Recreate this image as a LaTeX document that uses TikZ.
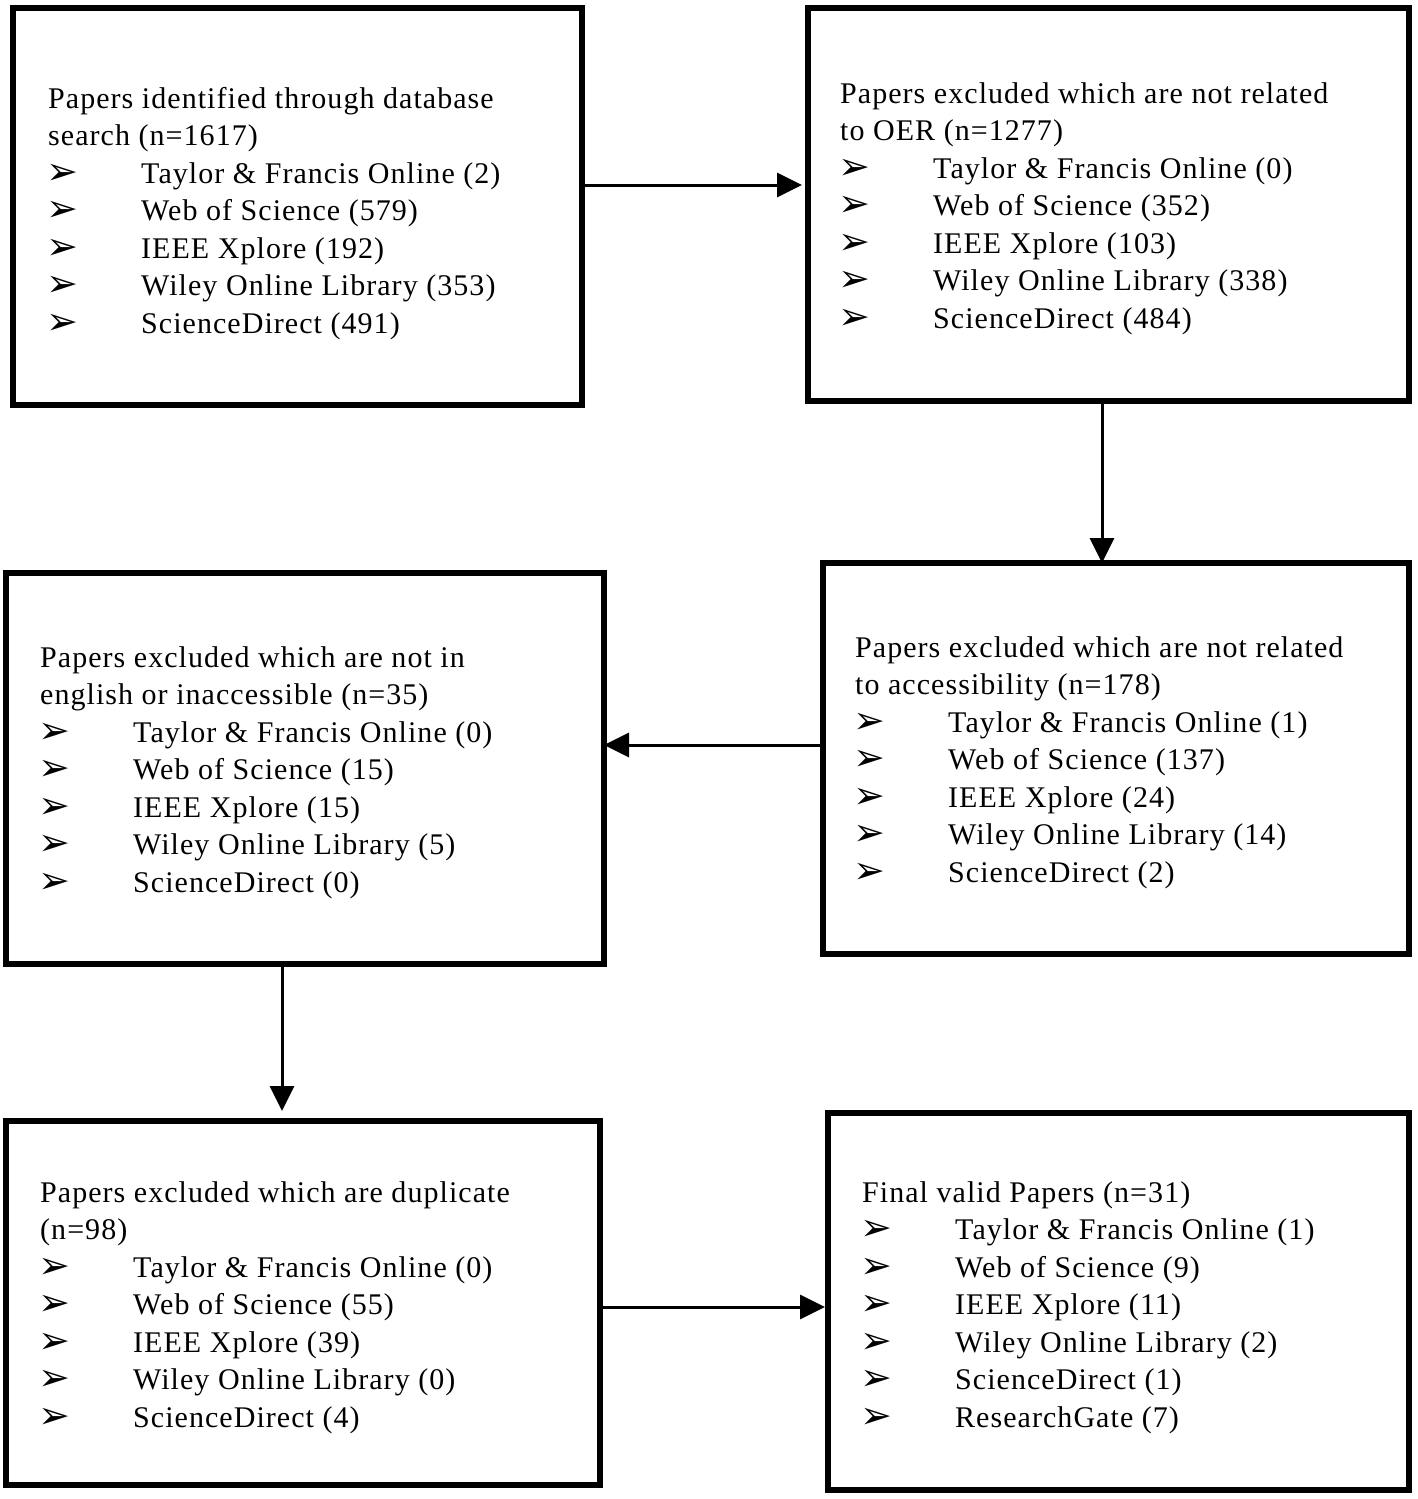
\documentclass[tikz,border=0pt]{standalone}
\usepackage{fontspec}
\setmainfont[LetterSpace=3.5]{Liberation Serif}
\newfontfamily\bulfont{DejaVu Sans}
\usetikzlibrary{arrows.meta}
\newcommand\bul{\raisebox{-1pt}{\bulfont\fontsize{38}{38}\selectfont ➢}}
\newcommand\tline[1]{\hbox{#1}}
\newcommand\bline[1]{\hbox{\makebox[93pt][l]{\hspace{-2pt}\bul}#1}}
\newcommand\btext[1]{\vtop{\baselineskip=37.5pt\lineskiplimit=-100pt #1}}
\tikzset{
  box/.style={draw, line width=6pt, rectangle, inner sep=0pt},
  arr/.style={line width=3pt, -{Triangle[length=25pt,width=24pt]}},
  txt/.style={anchor=base west, inner sep=0pt, font=\fontsize{30}{37.5}\selectfont}
}
\begin{document}
\begin{tikzpicture}[x=1pt,y=-1pt]
\useasboundingbox (0,0) rectangle (1418,1499);
\node[box, minimum width=569pt, minimum height=397pt] (b1) at (297.5,206.5) {};
\node[box, minimum width=601pt, minimum height=393pt] (b2) at (1108.5,204.5) {};
\node[box, minimum width=586pt, minimum height=391pt] (b3) at (1116,758.5) {};
\node[box, minimum width=598pt, minimum height=391pt] (b4) at (305,768.5) {};
\node[box, minimum width=594pt, minimum height=364pt] (b5) at (303,1303) {};
\node[box, minimum width=581pt, minimum height=377pt] (b6) at (1118.5,1301.5) {};

\node[txt] (t1) at (48,108) {\btext{%
\tline{Papers identified through database}
\tline{search (n=1617)}
\bline{Taylor \& Francis Online (2)}
\bline{Web of Science (579)}
\bline{IEEE Xplore (192)}
\bline{Wiley Online Library (353)}
\bline{ScienceDirect (491)}}};

\node[txt] (t2) at (840,103) {\btext{%
\tline{Papers excluded which are not related}
\tline{to OER (n=1277)}
\bline{Taylor \& Francis Online (0)}
\bline{Web of Science (352)}
\bline{IEEE Xplore (103)}
\bline{Wiley Online Library (338)}
\bline{ScienceDirect (484)}}};

\node[txt] (t3) at (855,657) {\btext{%
\tline{Papers excluded which are not related}
\tline{to accessibility (n=178)}
\bline{Taylor \& Francis Online (1)}
\bline{Web of Science (137)}
\bline{IEEE Xplore (24)}
\bline{Wiley Online Library (14)}
\bline{ScienceDirect (2)}}};

\node[txt] (t4) at (40,667) {\btext{%
\tline{Papers excluded which are not in}
\tline{english or inaccessible (n=35)}
\bline{Taylor \& Francis Online (0)}
\bline{Web of Science (15)}
\bline{IEEE Xplore (15)}
\bline{Wiley Online Library (5)}
\bline{ScienceDirect (0)}}};

\node[txt] (t5) at (40,1202) {\btext{%
\tline{Papers excluded which are duplicate}
\tline{(n=98)}
\bline{Taylor \& Francis Online (0)}
\bline{Web of Science (55)}
\bline{IEEE Xplore (39)}
\bline{Wiley Online Library (0)}
\bline{ScienceDirect (4)}}};

\node[txt] (t6) at (862,1202) {\btext{%
\tline{Final valid Papers (n=31)}
\bline{Taylor \& Francis Online (1)}
\bline{Web of Science (9)}
\bline{IEEE Xplore (11)}
\bline{Wiley Online Library (2)}
\bline{ScienceDirect (1)}
\bline{ResearchGate (7)}}};

\draw[arr, shorten >=3pt] (b1.east |- 0,185) -- (b2.west |- 0,185);
\draw[arr, shorten >=-3pt] (b2.south -| 1102,0) -- (b3.north -| 1102,0);
\draw[arr, shorten >=-3pt] (b3.west |- 0,745) -- (b4.east |- 0,745);
\draw[arr, shorten >=7pt] (b4.south -| 282,0) -- (b5.north -| 282,0);
\draw[arr] (b5.east |- 0,1307) -- (b6.west |- 0,1307);
\end{tikzpicture}
\end{document}
